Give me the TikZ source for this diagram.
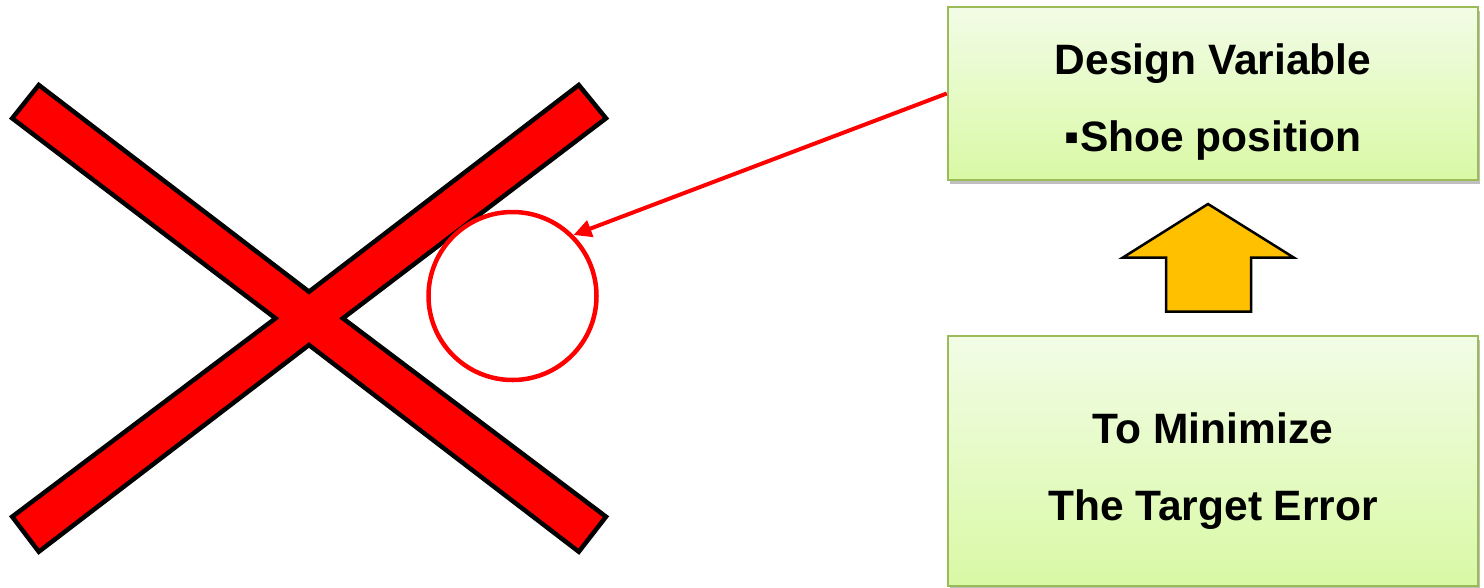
\documentclass[tikz,border=0pt]{standalone}
\usepackage{fontspec}
\setmainfont{Liberation Sans}
\usetikzlibrary{arrows.meta, shadows}

\definecolor{boxtop}{HTML}{F2FCE6}
\definecolor{boxbot}{HTML}{D9F9A5}
\definecolor{boxline}{HTML}{9BBB59}
\definecolor{arrowgold}{HTML}{FFC000}

\newcommand{\lift}[1]{\rule{0pt}{#1}}

\tikzset{
  varbox/.style={draw=boxline, line width=2.5, top color=boxtop, bottom color=boxbot,
    minimum width=530, inner sep=0, align=center,
    font=\fontsize{42.5}{77}\selectfont\bfseries,
    drop shadow={shadow xshift=2pt, shadow yshift=-4pt, opacity=0.25, fill=black}},
  redline/.style={draw=red, line width=4.5},
}

\begin{document}
\begin{tikzpicture}[x=1pt, y=-1pt]
\useasboundingbox (0,0) rectangle (1484,587);

% crossed-out mark
\draw[fill=red, line width=4.5, line join=miter]
  (38.8,85) -- (309,291.7) -- (578.8,85) -- (606,118.3) -- (342.9,318.3)
  -- (606,516.7) -- (578.8,551.7) -- (309,345) -- (38.8,551.7)
  -- (12.2,516.7) -- (275.5,318.3) -- (12.2,118.3) -- cycle;

\node[redline, circle, minimum size=168, inner sep=0] (shoe) at (512.5,296) {};

\node[varbox, minimum height=173] (design) at (1213,93.5)
  {\lift{47pt}Design Variable\\{\char"25AA}Shoe position};

\node[varbox, minimum height=250] (target) at (1213,461)
  {\lift{51pt}To Minimize\\The Target Error};

\draw[redline, line width=4, -{Triangle[length=18, width=17]}] (design.west) -- (shoe.45);

% block arrow between the boxes
\draw[fill=arrowgold, line width=2.5]
  (1208,204) -- (1294,257.7) -- (1251,257.7) -- (1251,311.7)
  -- (1166,311.7) -- (1166,257.7) -- (1122.6,257.7) -- cycle;
\end{tikzpicture}
\end{document}
